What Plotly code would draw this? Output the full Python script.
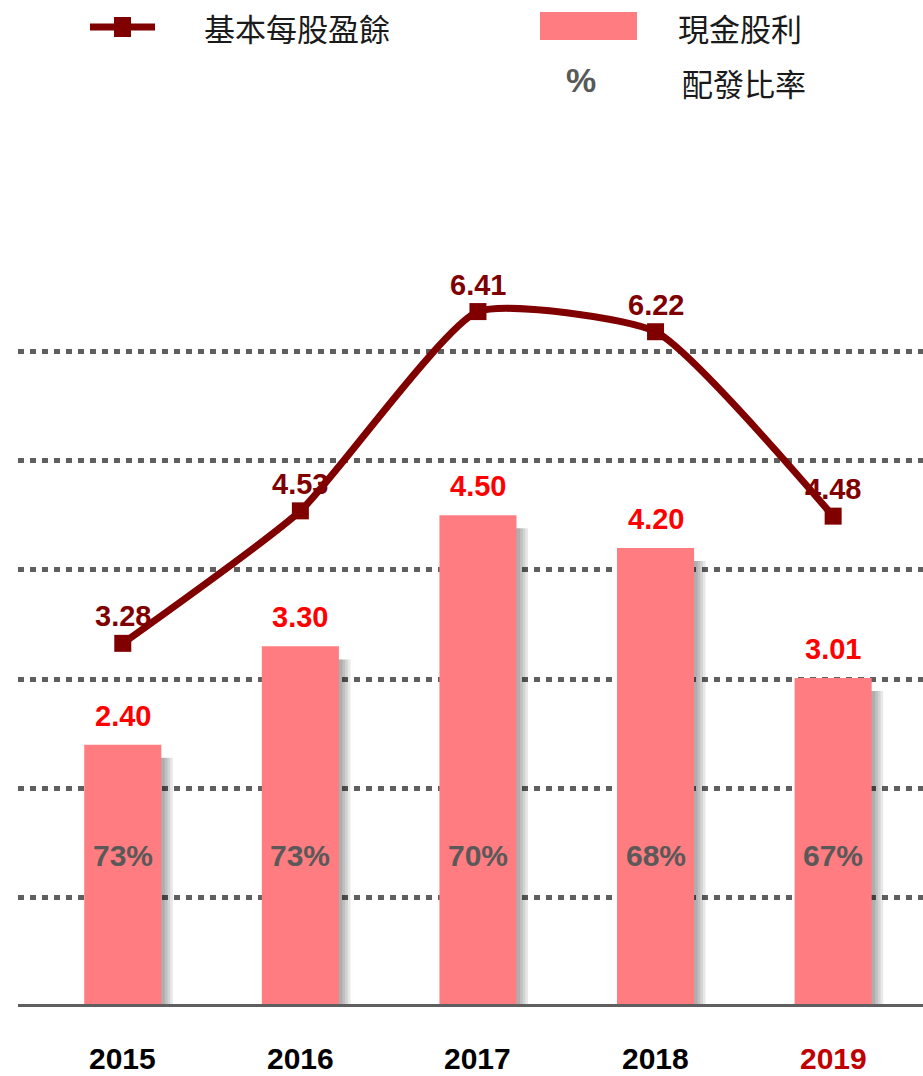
import plotly.graph_objects as go

years = ["2015", "2016", "2017", "2018", "2019"]
dividend = [2.40, 3.30, 4.50, 4.20, 3.01]
eps = [3.28, 4.53, 6.41, 6.22, 4.48]
payout = ["73%", "73%", "70%", "68%", "67%"]
year_colors = ["#000000", "#000000", "#000000", "#000000", "#C00000"]

legend_eps = "基本每股盈餘"
legend_div = "現金股利"
legend_pay = "配發比率"

W, H = 923, 1076
L, R, T, B = 18, 0, 220, 69
PW = W - L - R
PH = H - T - B


def px(x):
    return (x - L) / PW


def py(y):
    return (H - B - y) / PH


NUM_FONT = "Liberation Sans, Arial, sans-serif"
CJK_FONT = "Noto Sans CJK TC, Noto Sans CJK SC, sans-serif"

BAR_W = 0.434
fig = go.Figure()

# soft shadow behind bars
for off in [0.065, 0.05, 0.035, 0.02]:
    fig.add_trace(go.Bar(
        x=years, y=[v - 0.02 for v in dividend], width=BAR_W, offset=-BAR_W / 2 + off,
        base=-0.1,
        marker=dict(color="rgba(0,0,0,0.09)", line=dict(width=0)),
        hoverinfo="skip", showlegend=False))

fig.add_trace(go.Bar(
    x=years, y=dividend, width=BAR_W, offset=-BAR_W / 2,
    marker=dict(color="#FF7C80", line=dict(width=0)),
    name=legend_div, showlegend=False))

fig.add_trace(go.Scatter(
    x=years, y=eps, mode="lines+markers", yaxis="y2",
    line=dict(color="#800000", width=7, shape="spline", smoothing=0.5),
    marker=dict(symbol="square", size=17, color="#800000"),
    name=legend_eps, showlegend=False, cliponaxis=False))

ann = []
for i, v in enumerate(dividend):
    ann.append(dict(x=i, y=v, yshift=29, text=f"<b>{v:.2f}</b>", showarrow=False,
                    yanchor="middle",
                    font=dict(family=NUM_FONT, size=29, color="#FF0000")))
for i, v in enumerate(eps):
    ann.append(dict(x=i, y=v, yref="y2", yshift=27, text=f"<b>{v:.2f}</b>",
                    showarrow=False, yanchor="middle",
                    font=dict(family=NUM_FONT, size=29, color="#800000")))
for i, p in enumerate(payout):
    ann.append(dict(x=i, y=1.39, text=f"<b>{p}</b>", showarrow=False, yanchor="middle",
                    font=dict(family=NUM_FONT, size=30, color="#595959")))
for i, (yr, c) in enumerate(zip(years, year_colors)):
    ann.append(dict(x=i, y=py(1076), yref="paper", text=f"<b>{yr}</b>", showarrow=False,
                    yanchor="bottom", borderpad=0,
                    font=dict(family=NUM_FONT, size=30, color=c)))

# legend (custom)
ann.append(dict(x=px(202), y=py(28), xref="paper", yref="paper", text=legend_eps,
                showarrow=False, xanchor="left", yanchor="middle",
                font=dict(family=CJK_FONT, size=31, color="#1a1a1a")))
ann.append(dict(x=px(676), y=py(28), xref="paper", yref="paper", text=legend_div,
                showarrow=False, xanchor="left", yanchor="middle",
                font=dict(family=CJK_FONT, size=31, color="#1a1a1a")))
ann.append(dict(x=px(680), y=py(82), xref="paper", yref="paper", text=legend_pay,
                showarrow=False, xanchor="left", yanchor="middle",
                font=dict(family=CJK_FONT, size=31, color="#1a1a1a")))
ann.append(dict(x=px(581), y=py(80), xref="paper", yref="paper", text="<b>%</b>",
                showarrow=False, xanchor="center", yanchor="middle",
                font=dict(family=NUM_FONT, size=34, color="#595959")))

shapes = [
    # baseline
    dict(type="line", xref="paper", yref="y", x0=0, x1=1, y0=0, y1=0,
         line=dict(color="#5F5F5F", width=6), layer="above"),
    # legend: eps line + marker
    dict(type="line", xref="paper", yref="paper", x0=px(90), x1=px(155),
         y0=py(27), y1=py(27), line=dict(color="#800000", width=7)),
    dict(type="rect", xref="paper", yref="paper", x0=px(114), x1=px(131),
         y0=py(37), y1=py(17), fillcolor="#800000", line=dict(width=0)),
    # legend: dividend rect
    dict(type="rect", xref="paper", yref="paper", x0=px(540), x1=px(637),
         y0=py(40), y1=py(12), fillcolor="#FF7C80", line=dict(width=0)),
]

fig.update_layout(
    width=W, height=H,
    margin=dict(l=L, r=R, t=T, b=B),
    paper_bgcolor="white", plot_bgcolor="white",
    barmode="overlay",
    showlegend=False,
    annotations=ann,
    shapes=shapes,
    xaxis=dict(type="category", range=[-0.590, 4.506], showgrid=False,
               showticklabels=False, zeroline=False, showline=False, ticks=""),
    yaxis=dict(range=[0, 7.2], tickvals=[1, 2, 3, 4, 5, 6], showticklabels=False,
               showgrid=True, gridcolor="#5F5F5F", gridwidth=5, griddash="6px,6px",
               zeroline=False, showline=False, ticks=""),
    yaxis2=dict(overlaying="y", range=[-0.151, 7.274], showgrid=False,
                showticklabels=False, zeroline=False, showline=False, ticks=""),
)

fig.write_html("out.html")
